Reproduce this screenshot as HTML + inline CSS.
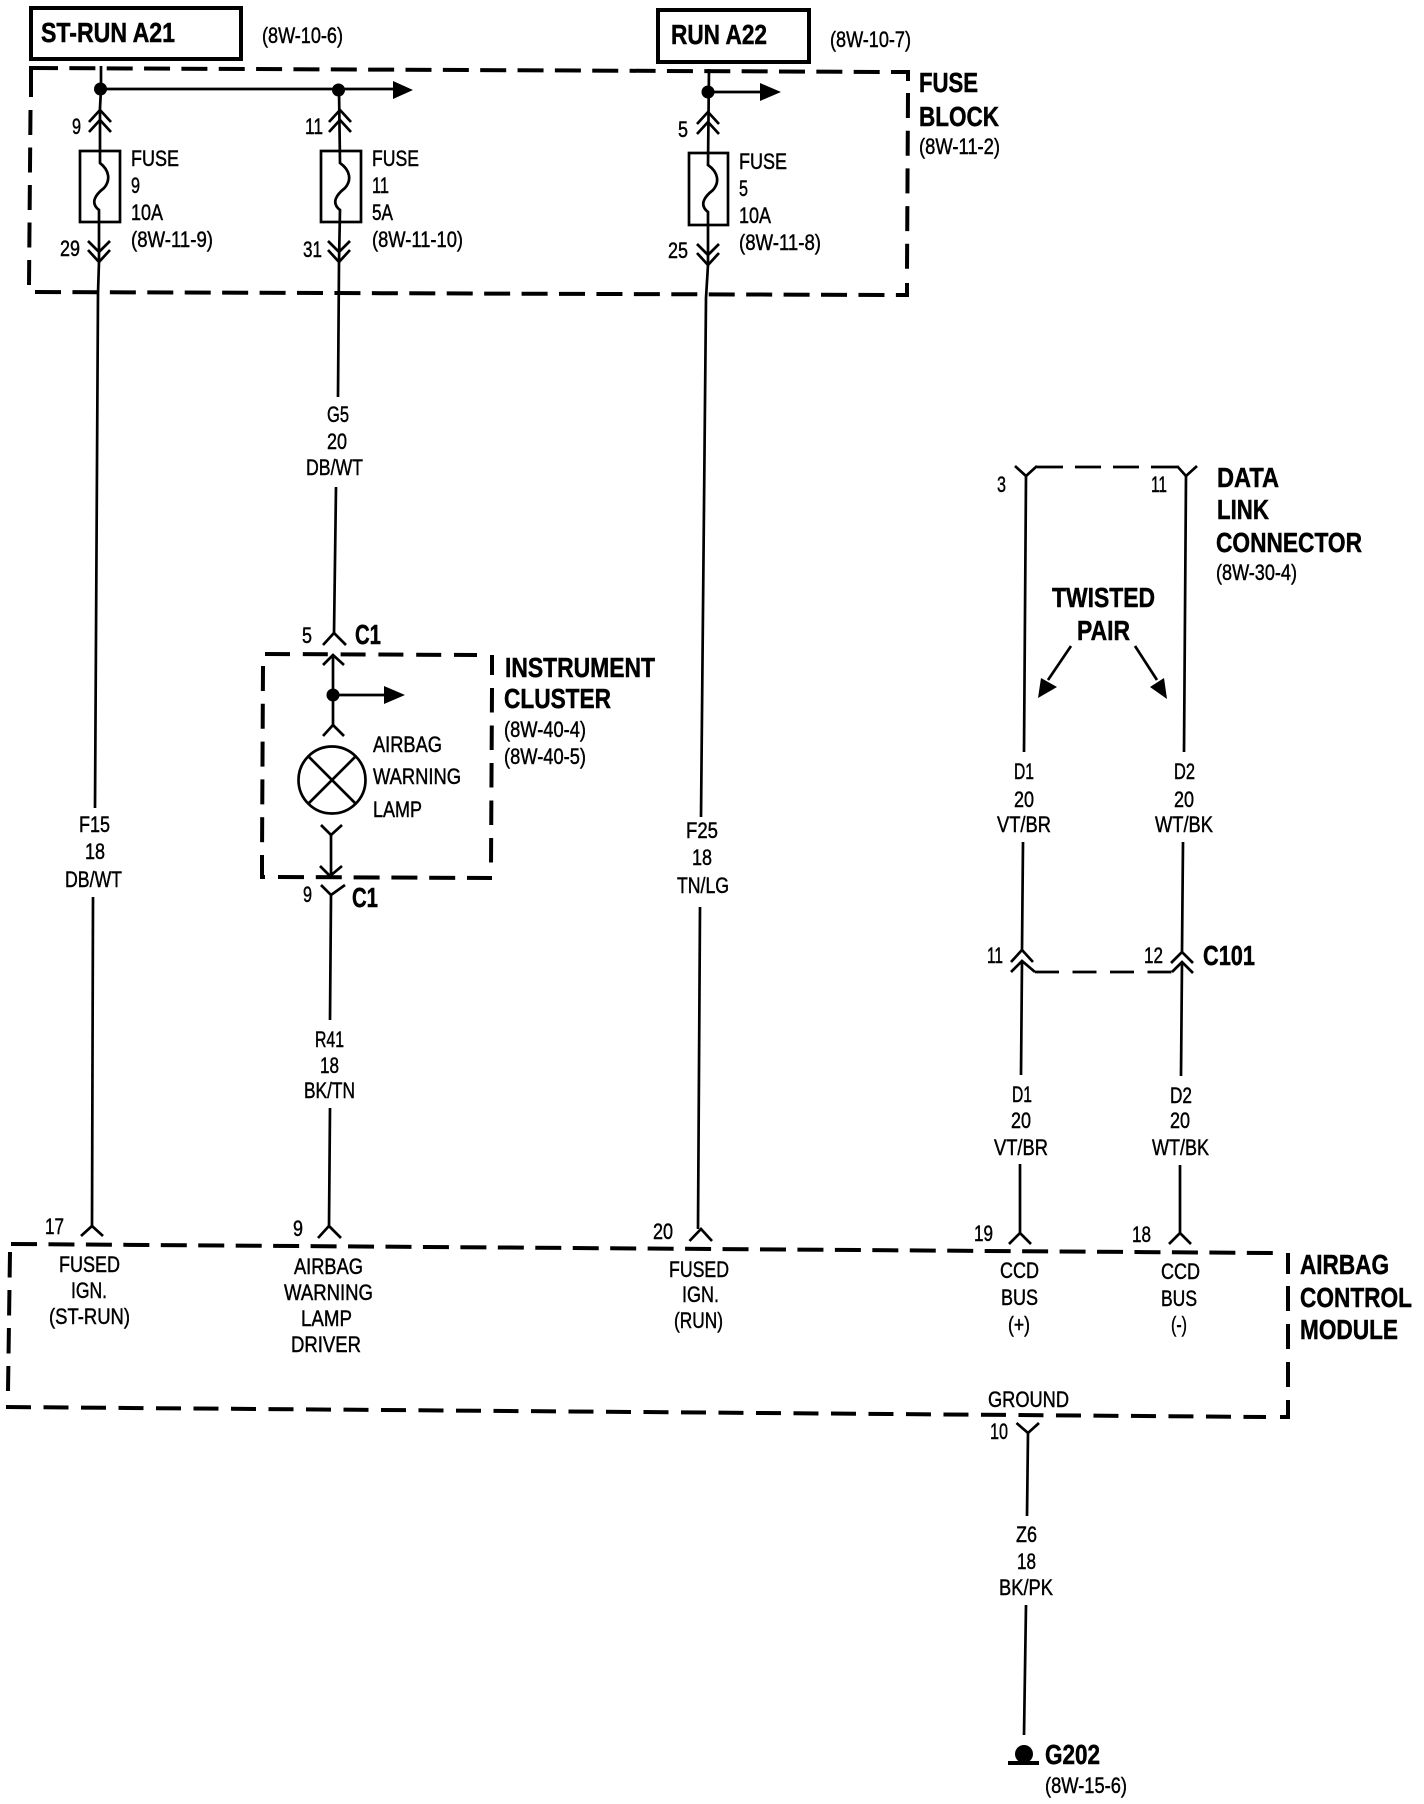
<!DOCTYPE html>
<html><head><meta charset="utf-8"><title>Airbag wiring diagram</title>
<style>
html,body{margin:0;padding:0;background:#fff}
svg{display:block}
text{font-family:"Liberation Sans",sans-serif;fill:#000}
.r{font-size:22px;stroke:#000;stroke-width:.45}
.b{font-size:28px;font-weight:bold;stroke:#000;stroke-width:.5}
.w{fill:none;stroke:#000;stroke-width:2.7}
.d{fill:none;stroke:#000;stroke-width:4}
</style></head><body>
<svg xmlns="http://www.w3.org/2000/svg" width="1424" height="1804" viewBox="0 0 1424 1804">
<rect width="1424" height="1804" fill="#fff"/>
<!-- source boxes -->
<rect x="31" y="8" width="210" height="51" fill="none" stroke="#000" stroke-width="4"/>
<rect x="658" y="10" width="151" height="52" fill="none" stroke="#000" stroke-width="4"/>
<!-- fuse block -->
<g class="d">
<path d="M32,68 L891,72" stroke-dasharray="26 11.35"/>
<path d="M891,72 H908 V81"/>
<path d="M908,93 L907,271" stroke-dasharray="25 12.7"/>
<path d="M907,283 V295 H896"/>
<path d="M35,292 L896,295" stroke-dasharray="26 11.43"/>
<path d="M31,97 V68 H34"/>
<path d="M30.5,110 L29,285" stroke-dasharray="25 12.5"/>
</g>
<!-- instrument cluster -->
<g class="d">
<path d="M265,654 L477,655" stroke-dasharray="25 12.8"/>
<path d="M492,655 V675"/>
<path d="M492,688 L491,865" stroke-dasharray="24.5 13"/>
<path d="M263,666 L262,857" stroke-dasharray="25 12.8"/>
<path d="M262,857 V877 H265"/>
<path d="M278,877 L492,878" stroke-dasharray="26 11.8"/>
</g>
<!-- ACM -->
<g class="d">
<path d="M11,1244 L1273,1253" stroke-dasharray="26 11.45"/>
<path d="M1288,1253 V1274"/>
<path d="M1288,1286 L1288,1387" stroke-dasharray="25 13"/>
<path d="M1288,1400 V1417 H1280"/>
<path d="M6,1407 L1266,1417" stroke-dasharray="25 12.5"/>
<path d="M10,1252 L8,1391" stroke-dasharray="25.5 12.5"/>
</g>
<!-- data link dashes -->
<path d="M1037,467 H1177" class="w" stroke-dasharray="26 12"/>
<path d="M1035,972 H1172" class="w" stroke-dasharray="24 13.5"/>
<g class="w">
<!-- wire 1 -->
<path d="M101,66 V89 L100,108 V163 C109,170 111,180 104,188 C95,195 90,203 99,210 V262 L98,293 L95,808"/>
<path d="M93,897 L92,1226"/>
<path d="M89,122 L100,110 L111,122 M89,132 L100,120 L111,132"/>
<rect x="80" y="151" width="40" height="71"/>
<path d="M88,241 L99,252 L110,241 M88,250 L99,262 L110,250"/>
<!-- wire 2 -->
<path d="M339,89 L340,163 C350,170 352,180 345,188 C336,195 331,203 340,210 L339,262 L338,397"/>
<path d="M336,487 L334,634"/>
<path d="M329,122 L340,110 L351,122 M329,132 L340,120 L351,132"/>
<rect x="321" y="151" width="40" height="71"/>
<path d="M328,241 L339,252 L350,241 M328,250 L339,262 L350,250"/>
<!-- wire 3 -->
<path d="M709,69 L708,165 C718,172 720,182 713,190 C704,197 699,205 708,212 L708,265 L706,298 L701,817"/>
<path d="M700,907 L698,1229"/>
<path d="M697,124 L708,112 L719,124 M697,134 L708,122 L719,134"/>
<rect x="689" y="153" width="39" height="72"/>
<path d="M697,244 L708,255 L719,244 M697,253 L708,265 L719,253"/>
<!-- cluster -->
<path d="M323,645 L334,633 L346,645"/>
<path d="M323,665 L333,655 L344,665"/>
<path d="M333,655 V725"/>
<path d="M323,736 L333,725 L344,736"/>
<circle cx="332" cy="780" r="33.5"/>
<path d="M308,756 L356,804 M356,756 L308,804"/>
<path d="M321,825 L331,835 L342,825"/>
<path d="M331,835 V875"/>
<path d="M320,866 L330,876 L342,866"/>
<path d="M321,885 L331,895 L345,885"/>
<path d="M331,895 L330,1020"/>
<path d="M330,1108 L329,1226"/>
<!-- data link -->
<path d="M1015,466 L1026,476 L1037,466 M1177,466 L1186,476 L1197,466"/>
<path d="M1026,476 L1024,752"/>
<path d="M1186,476 L1184,752"/>
<path d="M1023,842 L1022,950"/>
<path d="M1183,842 L1182,952"/>
<path d="M1011,962 L1022,950 L1033,962 M1011,972 L1022,961 L1035,972"/>
<path d="M1171,963 L1182,952 L1193,963 M1172,972 L1182,962 L1193,973"/>
<path d="M1022,961 L1021,1075"/>
<path d="M1182,962 L1181,1076"/>
<path d="M1020,1164 V1233"/>
<path d="M1180,1165 V1233"/>
<!-- ACM pins -->
<path d="M81,1236 L92,1226 L103,1236"/>
<path d="M318,1238 L329,1226 L341,1238"/>
<path d="M689.5,1241 L701,1229 L712,1241"/>
<path d="M1009,1244 L1020,1233 L1031,1244"/>
<path d="M1169,1244 L1180,1233 L1191,1244"/>
<path d="M1016.5,1423 L1028,1433 L1039,1423"/>
<path d="M1028,1433 L1027,1516"/>
<path d="M1026,1605 L1024,1735"/>
<!-- twisted pair lines -->
<path d="M1071,646 L1048,680 M1135,646 L1157,680"/>
<!-- branch lines -->
<path d="M100,89 H393"/>
<path d="M708,92 H761"/>
<path d="M333,695 H384"/>
</g>
<!-- dots + arrowheads -->
<circle cx="100.5" cy="89" r="6.5"/>
<circle cx="338.5" cy="90" r="6.5"/>
<circle cx="708" cy="92" r="6.5"/>
<circle cx="333" cy="695" r="6.5"/>
<path d="M393,81 L413,90 L393,99 Z"/>
<path d="M760,83 L781,92 L760,101 Z"/>
<path d="M384,686 L405,695 L384,704 Z"/>
<path d="M1038,698 L1041,678 L1057,687 Z"/>
<path d="M1167,699 L1150,687 L1164,678 Z"/>
<!-- ground -->
<circle cx="1024" cy="1754" r="9"/>
<rect x="1008" y="1761" width="31" height="4"/>

<!-- bold labels -->
<g class="b">
<text x="41" y="42" textLength="134" lengthAdjust="spacingAndGlyphs">ST-RUN A21</text>
<text x="671" y="44" textLength="96" lengthAdjust="spacingAndGlyphs">RUN A22</text>
<text x="919" y="92" textLength="59" lengthAdjust="spacingAndGlyphs">FUSE</text>
<text x="919" y="126" textLength="80" lengthAdjust="spacingAndGlyphs">BLOCK</text>
<text x="355" y="644" textLength="26" lengthAdjust="spacingAndGlyphs">C1</text>
<text x="352" y="907" textLength="26" lengthAdjust="spacingAndGlyphs">C1</text>
<text x="505" y="677" textLength="150" lengthAdjust="spacingAndGlyphs">INSTRUMENT</text>
<text x="504" y="708" textLength="107" lengthAdjust="spacingAndGlyphs">CLUSTER</text>
<text x="1217" y="487" textLength="62" lengthAdjust="spacingAndGlyphs">DATA</text>
<text x="1217" y="519" textLength="52" lengthAdjust="spacingAndGlyphs">LINK</text>
<text x="1216" y="552" textLength="146" lengthAdjust="spacingAndGlyphs">CONNECTOR</text>
<text x="1052" y="607" textLength="103" lengthAdjust="spacingAndGlyphs">TWISTED</text>
<text x="1077" y="640" textLength="53" lengthAdjust="spacingAndGlyphs">PAIR</text>
<text x="1203" y="965" textLength="52" lengthAdjust="spacingAndGlyphs">C101</text>
<text x="1300" y="1274" textLength="89" lengthAdjust="spacingAndGlyphs">AIRBAG</text>
<text x="1300" y="1307" textLength="112" lengthAdjust="spacingAndGlyphs">CONTROL</text>
<text x="1300" y="1339" textLength="98" lengthAdjust="spacingAndGlyphs">MODULE</text>
<text x="1045" y="1764" textLength="55" lengthAdjust="spacingAndGlyphs">G202</text>
</g>
<!-- regular labels -->
<g class="r">
<text x="262" y="43" textLength="81" lengthAdjust="spacingAndGlyphs">(8W-10-6)</text>
<text x="830" y="47" textLength="81" lengthAdjust="spacingAndGlyphs">(8W-10-7)</text>
<text x="919" y="154" textLength="81" lengthAdjust="spacingAndGlyphs">(8W-11-2)</text>
<text x="72" y="134" textLength="9" lengthAdjust="spacingAndGlyphs">9</text>
<text x="305" y="134" textLength="18" lengthAdjust="spacingAndGlyphs">11</text>
<text x="678" y="137" textLength="10" lengthAdjust="spacingAndGlyphs">5</text>
<text x="60" y="256" textLength="20" lengthAdjust="spacingAndGlyphs">29</text>
<text x="303" y="257" textLength="19" lengthAdjust="spacingAndGlyphs">31</text>
<text x="668" y="258" textLength="20" lengthAdjust="spacingAndGlyphs">25</text>
<text x="131" y="166" textLength="48" lengthAdjust="spacingAndGlyphs">FUSE</text>
<text x="131" y="193" textLength="9" lengthAdjust="spacingAndGlyphs">9</text>
<text x="131" y="220" textLength="32" lengthAdjust="spacingAndGlyphs">10A</text>
<text x="131" y="247" textLength="82" lengthAdjust="spacingAndGlyphs">(8W-11-9)</text>
<text x="372" y="166" textLength="47" lengthAdjust="spacingAndGlyphs">FUSE</text>
<text x="372" y="193" textLength="17" lengthAdjust="spacingAndGlyphs">11</text>
<text x="372" y="220" textLength="21" lengthAdjust="spacingAndGlyphs">5A</text>
<text x="372" y="247" textLength="91" lengthAdjust="spacingAndGlyphs">(8W-11-10)</text>
<text x="739" y="169" textLength="48" lengthAdjust="spacingAndGlyphs">FUSE</text>
<text x="739" y="196" textLength="9" lengthAdjust="spacingAndGlyphs">5</text>
<text x="739" y="223" textLength="32" lengthAdjust="spacingAndGlyphs">10A</text>
<text x="739" y="250" textLength="82" lengthAdjust="spacingAndGlyphs">(8W-11-8)</text>
<text x="327" y="422" textLength="22" lengthAdjust="spacingAndGlyphs">G5</text>
<text x="327" y="449" textLength="20" lengthAdjust="spacingAndGlyphs">20</text>
<text x="306" y="475" textLength="57" lengthAdjust="spacingAndGlyphs">DB/WT</text>
<text x="302" y="643" textLength="10" lengthAdjust="spacingAndGlyphs">5</text>
<text x="303" y="902" textLength="9" lengthAdjust="spacingAndGlyphs">9</text>
<text x="504" y="737" textLength="82" lengthAdjust="spacingAndGlyphs">(8W-40-4)</text>
<text x="504" y="764" textLength="82" lengthAdjust="spacingAndGlyphs">(8W-40-5)</text>
<text x="373" y="752" textLength="69" lengthAdjust="spacingAndGlyphs">AIRBAG</text>
<text x="373" y="784" textLength="88" lengthAdjust="spacingAndGlyphs">WARNING</text>
<text x="373" y="817" textLength="49" lengthAdjust="spacingAndGlyphs">LAMP</text>
<text x="79" y="832" textLength="31" lengthAdjust="spacingAndGlyphs">F15</text>
<text x="85" y="859" textLength="20" lengthAdjust="spacingAndGlyphs">18</text>
<text x="65" y="887" textLength="57" lengthAdjust="spacingAndGlyphs">DB/WT</text>
<text x="686" y="838" textLength="32" lengthAdjust="spacingAndGlyphs">F25</text>
<text x="692" y="865" textLength="20" lengthAdjust="spacingAndGlyphs">18</text>
<text x="677" y="893" textLength="52" lengthAdjust="spacingAndGlyphs">TN/LG</text>
<text x="315" y="1047" textLength="29" lengthAdjust="spacingAndGlyphs">R41</text>
<text x="320" y="1073" textLength="19" lengthAdjust="spacingAndGlyphs">18</text>
<text x="304" y="1098" textLength="51" lengthAdjust="spacingAndGlyphs">BK/TN</text>
<text x="997" y="492" textLength="9" lengthAdjust="spacingAndGlyphs">3</text>
<text x="1151" y="492" textLength="16" lengthAdjust="spacingAndGlyphs">11</text>
<text x="1216" y="580" textLength="81" lengthAdjust="spacingAndGlyphs">(8W-30-4)</text>
<text x="1014" y="779" textLength="20" lengthAdjust="spacingAndGlyphs">D1</text>
<text x="1014" y="807" textLength="20" lengthAdjust="spacingAndGlyphs">20</text>
<text x="997" y="832" textLength="54" lengthAdjust="spacingAndGlyphs">VT/BR</text>
<text x="1174" y="779" textLength="21" lengthAdjust="spacingAndGlyphs">D2</text>
<text x="1174" y="807" textLength="20" lengthAdjust="spacingAndGlyphs">20</text>
<text x="1155" y="832" textLength="58" lengthAdjust="spacingAndGlyphs">WT/BK</text>
<text x="987" y="963" textLength="16" lengthAdjust="spacingAndGlyphs">11</text>
<text x="1144" y="963" textLength="19" lengthAdjust="spacingAndGlyphs">12</text>
<text x="1012" y="1102" textLength="20" lengthAdjust="spacingAndGlyphs">D1</text>
<text x="1011" y="1128" textLength="20" lengthAdjust="spacingAndGlyphs">20</text>
<text x="994" y="1155" textLength="54" lengthAdjust="spacingAndGlyphs">VT/BR</text>
<text x="1170" y="1103" textLength="22" lengthAdjust="spacingAndGlyphs">D2</text>
<text x="1170" y="1128" textLength="20" lengthAdjust="spacingAndGlyphs">20</text>
<text x="1152" y="1155" textLength="57" lengthAdjust="spacingAndGlyphs">WT/BK</text>
<text x="45" y="1234" textLength="19" lengthAdjust="spacingAndGlyphs">17</text>
<text x="293" y="1236" textLength="10" lengthAdjust="spacingAndGlyphs">9</text>
<text x="653" y="1239" textLength="20" lengthAdjust="spacingAndGlyphs">20</text>
<text x="974" y="1241" textLength="19" lengthAdjust="spacingAndGlyphs">19</text>
<text x="1132" y="1242" textLength="19" lengthAdjust="spacingAndGlyphs">18</text>
<text x="59" y="1272" textLength="61" lengthAdjust="spacingAndGlyphs">FUSED</text>
<text x="71" y="1298" textLength="36" lengthAdjust="spacingAndGlyphs">IGN.</text>
<text x="49" y="1324" textLength="81" lengthAdjust="spacingAndGlyphs">(ST-RUN)</text>
<text x="294" y="1274" textLength="69" lengthAdjust="spacingAndGlyphs">AIRBAG</text>
<text x="284" y="1300" textLength="89" lengthAdjust="spacingAndGlyphs">WARNING</text>
<text x="301" y="1326" textLength="51" lengthAdjust="spacingAndGlyphs">LAMP</text>
<text x="291" y="1352" textLength="70" lengthAdjust="spacingAndGlyphs">DRIVER</text>
<text x="669" y="1277" textLength="60" lengthAdjust="spacingAndGlyphs">FUSED</text>
<text x="682" y="1302" textLength="37" lengthAdjust="spacingAndGlyphs">IGN.</text>
<text x="674" y="1328" textLength="49" lengthAdjust="spacingAndGlyphs">(RUN)</text>
<text x="1000" y="1278" textLength="39" lengthAdjust="spacingAndGlyphs">CCD</text>
<text x="1001" y="1305" textLength="37" lengthAdjust="spacingAndGlyphs">BUS</text>
<text x="1008" y="1332" textLength="22" lengthAdjust="spacingAndGlyphs">(+)</text>
<text x="1161" y="1279" textLength="39" lengthAdjust="spacingAndGlyphs">CCD</text>
<text x="1161" y="1306" textLength="36" lengthAdjust="spacingAndGlyphs">BUS</text>
<text x="1171" y="1332" textLength="16" lengthAdjust="spacingAndGlyphs">(-)</text>
<text x="988" y="1407" textLength="81" lengthAdjust="spacingAndGlyphs">GROUND</text>
<text x="990" y="1439" textLength="18" lengthAdjust="spacingAndGlyphs">10</text>
<text x="1016" y="1542" textLength="21" lengthAdjust="spacingAndGlyphs">Z6</text>
<text x="1017" y="1569" textLength="19" lengthAdjust="spacingAndGlyphs">18</text>
<text x="999" y="1595" textLength="54" lengthAdjust="spacingAndGlyphs">BK/PK</text>
<text x="1045" y="1793" textLength="82" lengthAdjust="spacingAndGlyphs">(8W-15-6)</text>
</g>
</svg>
</body></html>
